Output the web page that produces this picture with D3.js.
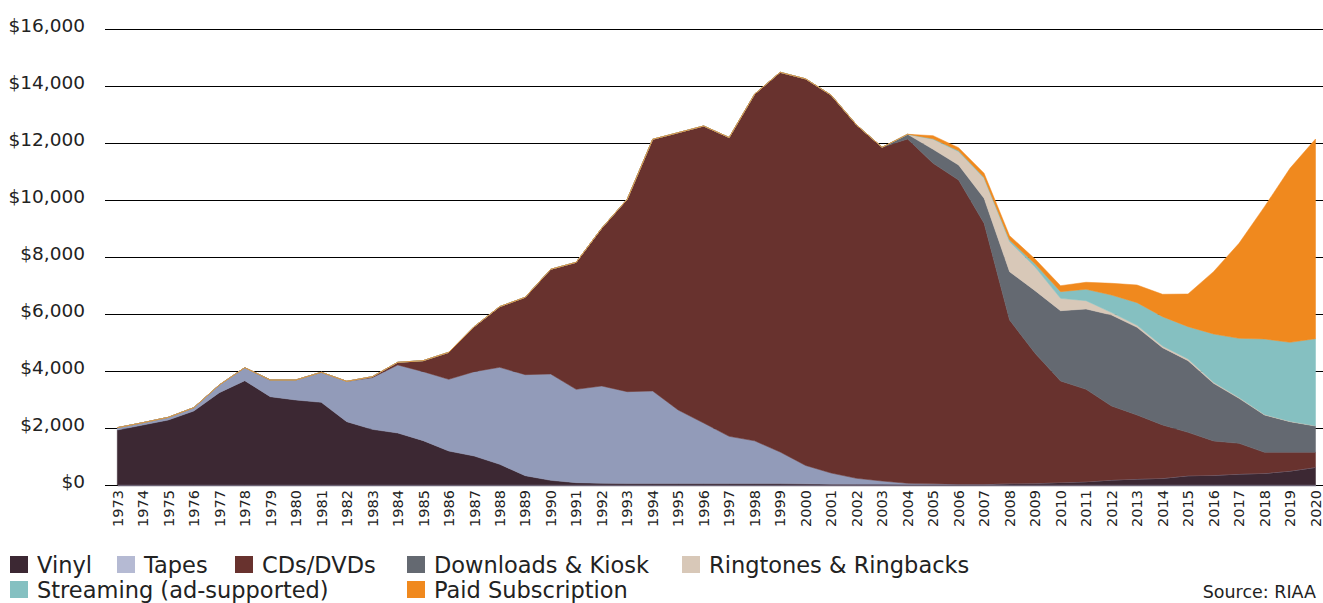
<!DOCTYPE html>
<html>
<head>
<meta charset="utf-8">
<script src="https://cdn.jsdelivr.net/npm/d3@7"></script>
<style>
  body { margin: 0; background: #fff; }
  text { font-family: "DejaVu Sans", sans-serif; fill: #222; }
</style>
</head>
<body>
<div id="graphic"></div>
<script>
var years = d3.range(1973, 2021)

var vinyl = [1930, 2105, 2281, 2597, 3240, 3661, 3099, 2983, 2901, 2222,
  1953, 1825, 1556, 1193, 1018, 726, 327, 164, 82, 60,
  50, 50, 50, 50, 50, 50, 50, 40, 30, 25,
  25, 20, 15, 15, 20, 50, 60, 90, 117, 175,
  211, 234, 327, 339, 386, 409, 491, 620]

var tapes = [81, 81, 94, 116, 269, 456, 586, 702, 1053, 1416,
  1814, 2386, 2421, 2515, 2959, 3404, 3545, 3731, 3275, 3414,
  3225, 3249, 2582, 2125, 1658, 1500, 1108, 645, 390, 209,
  115, 38, 25, 15, 5, 0, 0, 0, 0, 0,
  0, 0, 0, 0, 0, 0, 0, 0]

var cds = [0, 0, 0, 0, 0, 0, 0, 0, 0, 0,
  33, 94, 386, 947, 1579, 2128, 2714, 3674, 4457, 5534,
  6750, 8831, 9730, 10422, 10485, 12165, 13323, 13565, 13260, 12398,
  11710, 12083, 11248, 10672, 9158, 5740, 4561, 3559, 3240, 2597,
  2245, 1871, 1521, 1205, 1076, 737, 655, 526]

var downloads = [0, 0, 0, 0, 0, 0, 0, 0, 0, 0,
  0, 0, 0, 0, 0, 0, 0, 0, 0, 0,
  0, 0, 0, 0, 0, 0, 0, 0, 0, 0,
  0, 165, 491, 526, 877, 1695, 2199, 2467, 2819, 3193,
  3077, 2713, 2515, 2024, 1580, 1310, 1076, 924]

var ringtones = [0, 0, 0, 0, 0, 0, 0, 0, 0, 0,
  0, 0, 0, 0, 0, 0, 0, 0, 0, 0,
  0, 0, 0, 0, 0, 0, 0, 0, 0, 0,
  0, 0, 351, 468, 702, 1053, 830, 433, 291, 84,
  71, 60, 60, 40, 30, 20, 15, 10]

var streaming = [0, 0, 0, 0, 0, 0, 0, 0, 0, 0,
  0, 0, 0, 0, 0, 0, 0, 0, 0, 0,
  0, 0, 0, 0, 0, 0, 0, 0, 0, 0,
  0, 0, 20, 30, 30, 59, 110, 234, 400, 617,
  793, 1028, 1133, 1690, 2074, 2647, 2769, 3053]

var paid = [0, 0, 0, 0, 0, 0, 0, 0, 0, 0,
  0, 0, 0, 0, 0, 0, 0, 0, 0, 0,
  0, 0, 0, 0, 0, 0, 0, 0, 0, 0,
  0, 0, 107, 110, 146, 151, 170, 210, 246, 411,
  621, 786, 1146, 2188, 3334, 4644, 6107, 7007]

var seriesNames = ["Vinyl", "Tapes", "CDs/DVDs", "Downloads & Kiosk",
  "Ringtones & Ringbacks", "Streaming (ad-supported)", "Paid Subscription"]
var seriesValues = [vinyl, tapes, cds, downloads, ringtones, streaming, paid]
var seriesColors = ["#3c2833", "#929bb9", "#68322e", "#646971",
  "#d8c8b8", "#85c0c1", "#f0891e"]
// the legend swatch for tapes is a lighter shade than the area
var legendColors = ["#3c2833", "#b5bad3", "#68322e", "#646971",
  "#d8c8b8", "#85c0c1", "#f0891e"]

var yTicks = d3.range(0, 16001, 2000)

;(function () {

  var margin = { top: 29, right: 0, bottom: 118, left: 105 }

  var width = 1323 - margin.left - margin.right,
      height = 603 - margin.top - margin.bottom

  var root = d3.select("#graphic").append("svg")
      .attr("width", width + margin.left + margin.right)
      .attr("height", height + margin.top + margin.bottom)

  var svg = root.append("g")
      .attr("transform", "translate(" + margin.left + "," + margin.top + ")")

  var rows = years.map(function (yr, i) {
    var row = { year: yr }
    seriesNames.forEach(function (name, j) {
      row[name] = seriesValues[j][i]
    })
    return row
  })

  var xPositionScale = d3.scaleLinear()
    .domain([1973, 2020])
    .range([12.3, 1210.5])

  var yPositionScale = d3.scaleLinear()
    .domain([0, 16000])
    .range([height, 0])

  var colorScale = d3.scaleOrdinal()
    .domain(seriesNames)
    .range(seriesColors)

  // gridlines + dollar labels
  var yAxis = d3.axisLeft(yPositionScale)
    .tickValues(yTicks)
    .tickSize(-width)
    .tickPadding(20)
    .tickFormat(function (d) { return "$" + d3.format(",")(d) })

  var yG = svg.append("g")
    .attr("class", "axis y-axis")
    .call(yAxis)
  yG.select(".domain").remove()
  yG.selectAll("line").attr("stroke", "#000").attr("stroke-width", 1.2)
  yG.selectAll("text")
    .attr("dy", "0.15em")
    .style("font-size", "18.5px")
    .style("font-family", "'DejaVu Sans', sans-serif")
    .attr("fill", "#222")

  var stack = d3.stack().keys(seriesNames)
  var layers = stack(rows)

  var area = d3.area()
    .x(function (d) { return xPositionScale(d.data.year) })
    .y0(function (d) { return yPositionScale(d[0]) })
    .y1(function (d) { return yPositionScale(d[1]) })

  svg.selectAll(".layer")
    .data(layers)
    .enter().append("path")
    .attr("class", "layer")
    .attr("fill", function (d) { return colorScale(d.key) })
    .attr("stroke", function (d) { return colorScale(d.key) })
    .attr("stroke-width", 0.5)
    .attr("d", area)

  var xAxis = d3.axisBottom(xPositionScale)
    .tickValues(years)
    .tickSize(0)
    .tickFormat(d3.format("d"))

  var xG = svg.append("g")
    .attr("class", "axis x-axis")
    .attr("transform", "translate(0," + height + ")")
    .call(xAxis)
  xG.select(".domain").attr("stroke", "#6b6274").attr("stroke-width", 1.5)
  xG.selectAll("text")
    .attr("transform", "rotate(-90)")
    .attr("text-anchor", "end")
    .attr("x", -5)
    .attr("y", 0)
    .attr("dy", "0.33em")
    .style("font-size", "14.5px")
    .style("font-family", "'DejaVu Sans', sans-serif")
    .attr("fill", "#222")

  // legend
  var legendPos = [[10, 556], [117, 556], [235, 556], [407, 556], [682, 556],
    [10, 581], [407, 581]]

  var legend = root.selectAll(".legend")
    .data(seriesNames)
    .enter().append("g")
    .attr("class", "legend")
    .attr("transform", function (d, i) {
      return "translate(" + legendPos[i][0] + "," + legendPos[i][1] + ")"
    })

  legend.append("rect")
    .attr("width", 18)
    .attr("height", 17)
    .attr("fill", function (d, i) { return legendColors[i] })

  legend.append("text")
    .attr("x", 27)
    .attr("y", 17)
    .style("font-size", "22.5px")
    .text(function (d) { return d })

  root.append("text")
    .attr("x", 1316)
    .attr("y", 598)
    .attr("text-anchor", "end")
    .style("font-size", "17.5px")
    .text("Source: RIAA")

})()
</script>
</body>
</html>
